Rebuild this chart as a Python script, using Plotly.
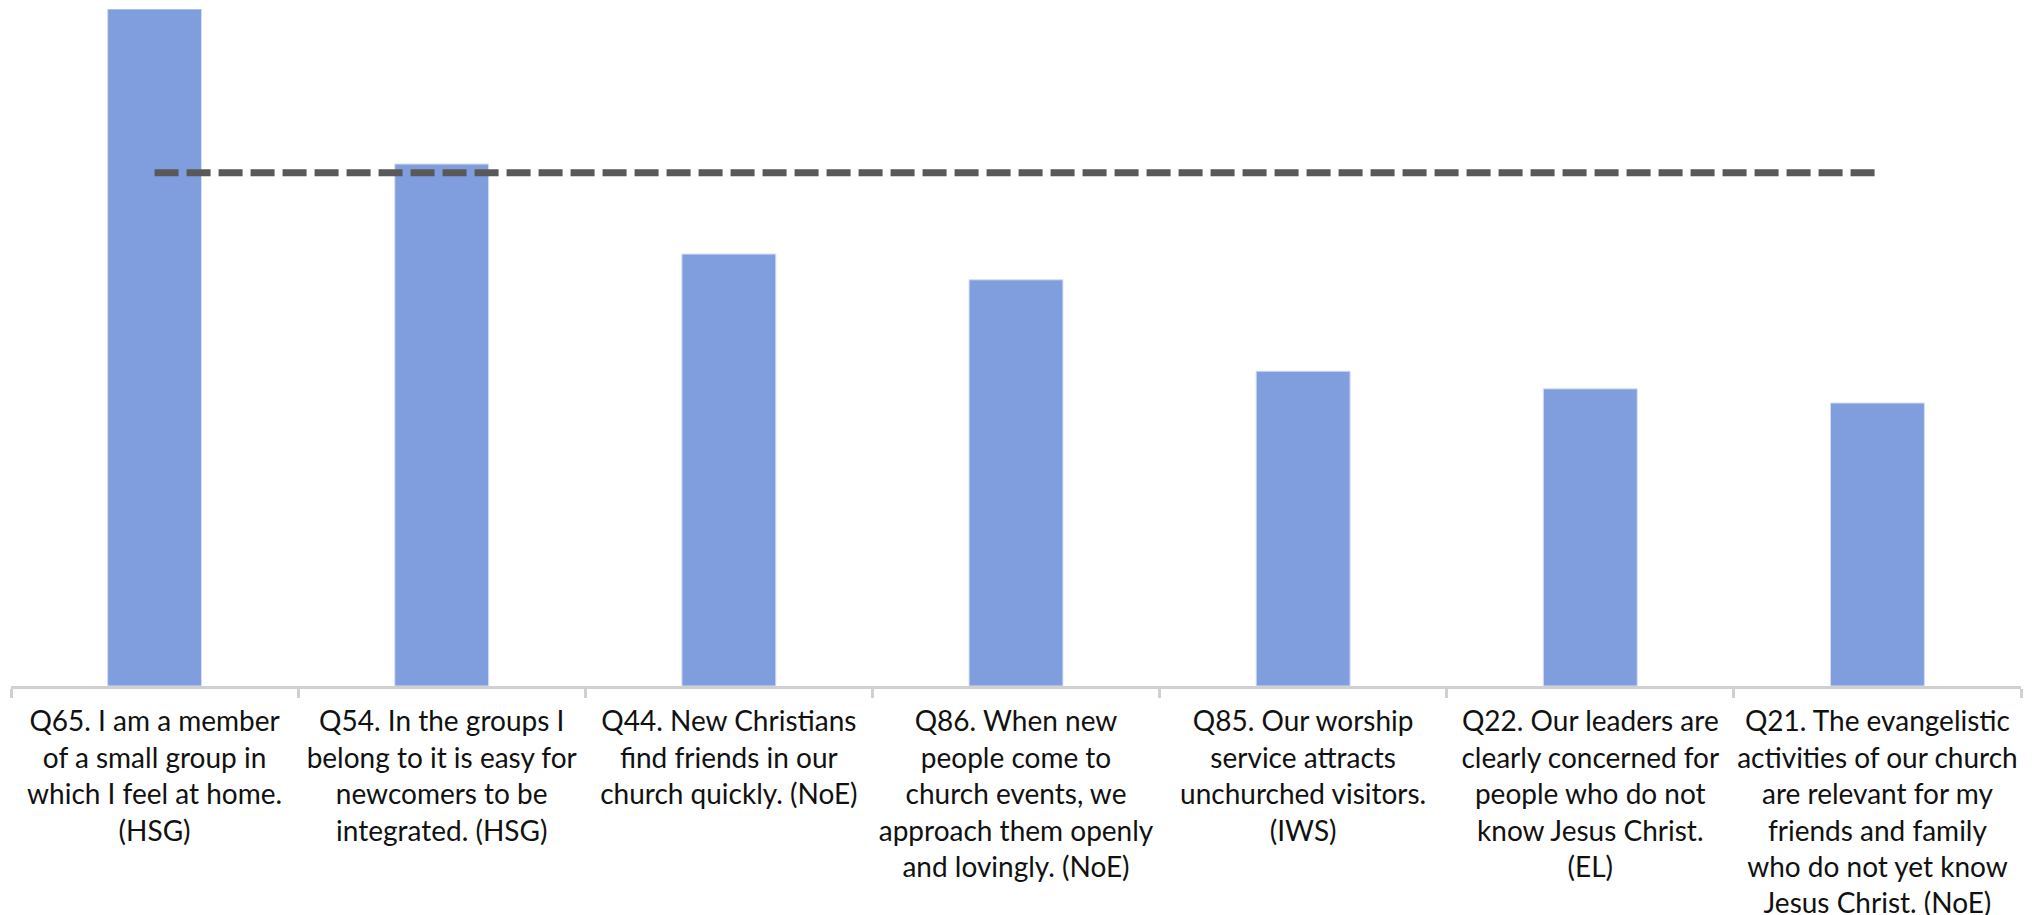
import plotly.graph_objects as go

categories = [
    "Q65. I am a member<br>of a small group in<br>which I feel at home.<br>(HSG)",
    "Q54. In the groups I<br>belong to it is easy for<br>newcomers to be<br>integrated. (HSG)",
    "Q44. New Christians<br>find friends in our<br>church quickly. (NoE)",
    "Q86. When new<br>people come to<br>church events, we<br>approach them openly<br>and lovingly. (NoE)",
    "Q85. Our worship<br>service attracts<br>unchurched visitors.<br>(IWS)",
    "Q22. Our leaders are<br>clearly concerned for<br>people who do not<br>know Jesus Christ.<br>(EL)",
    "Q21. The evangelistic<br>activities of our church<br>are relevant for my<br>friends and family<br>who do not yet know<br>Jesus Christ. (NoE)",
]
scores = [100.0, 77.1, 63.8, 60.0, 46.5, 43.9, 41.8]
average = [75.8, 75.8, 75.8, 75.8, 75.8, 75.8, 75.8]

fig = go.Figure()
fig.add_trace(go.Bar(
    x=categories, y=scores,
    marker=dict(color="#809EDD", line=dict(color="#d4ddf3", width=1)),
    showlegend=False, hoverinfo="skip",
))
fig.add_trace(go.Scatter(
    x=categories, y=average, mode="lines",
    line=dict(color="#595959", width=7, dash="24px,8px"),
    showlegend=False, hoverinfo="skip",
))

# page body adds an 8px offset; figure sized to fill the remaining window
fig.update_layout(
    width=2032, height=907,
    margin=dict(l=3, r=19, t=1, b=229, autoexpand=False),
    plot_bgcolor="white", paper_bgcolor="white",
    bargap=0.673,
    font=dict(family="Lato, 'Open Sans', sans-serif", size=28, color="#111111"),
    xaxis=dict(
        type="category", automargin=False,
        showline=True, linecolor="#d0d0d0", linewidth=2.5,
        ticks="outside", tickson="boundaries", ticklen=9, tickwidth=2.5, tickcolor="#d0d0d0",
        showgrid=False, zeroline=False, tickangle=0, ticklabelstandoff=9,
        tickfont=dict(size=28, color="#111111"),
    ),
    yaxis=dict(range=[0, 100], visible=False, showgrid=False, zeroline=False, automargin=False),
)

fig.write_html("out.html")
